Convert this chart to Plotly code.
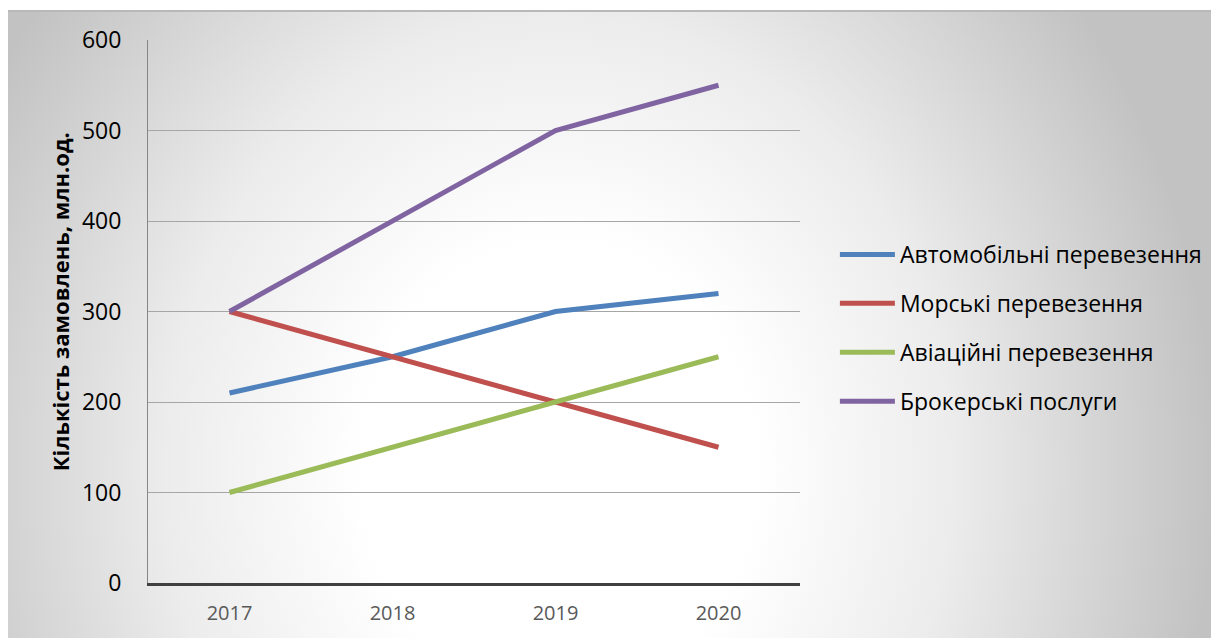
import base64
import plotly.graph_objects as go

years = ["2017", "2018", "2019", "2020"]
auto = [210, 250, 300, 320]
sea = [300, 250, 200, 150]
air = [100, 150, 200, 250]
broker = [300, 400, 500, 550]

names = ["Автомобільні перевезення", "Морські перевезення", "Авіаційні перевезення", "Брокерські послуги"]
colors = ["#4F81BD", "#C0504D", "#9BBB59", "#8064A2"]
series = [auto, sea, air, broker]

# page body has an 8px margin, so the figure is offset by 8px
W, H = 1211, 630
L, R, T, B = 140, 417, 32, 55
pw, ph = W - L - R, H - T - B

svg = '''<svg xmlns="http://www.w3.org/2000/svg" width="1212" height="628" viewBox="0 0 1212 628" preserveAspectRatio="none">
<defs><radialGradient id="g" gradientUnits="userSpaceOnUse" cx="0" cy="0" r="1" gradientTransform="translate(553 460) scale(660 760)">
<stop offset="0" stop-color="#ffffff"/><stop offset="0.3" stop-color="#ffffff"/><stop offset="0.6" stop-color="#ececec"/><stop offset="1" stop-color="#c2c2c2"/></radialGradient></defs>
<rect x="0" y="0" width="1212" height="628" fill="url(#g)"/>
<line x1="0" y1="1" x2="1212" y2="1" stroke="#b8b8b8" stroke-width="2"/>
</svg>'''
uri = "data:image/svg+xml;base64," + base64.b64encode(svg.encode()).decode()

fig = go.Figure()
for n, c, s in zip(names, colors, series):
    fig.add_trace(go.Scatter(x=years, y=s, name=n, mode="lines",
                             line=dict(color=c, width=5), legendgroup=n))

font = "Open Sans, Liberation Sans, sans-serif"
fig.update_layout(
    width=W, height=H,
    margin=dict(l=L, r=R, t=T, b=B),
    paper_bgcolor="rgba(0,0,0,0)", plot_bgcolor="rgba(0,0,0,0)",
    font=dict(family=font),
    images=[dict(source=uri, xref="paper", yref="paper",
                 x=(-1 - L) / pw, y=(H - 2 - B) / ph,
                 sizex=1212 / pw, sizey=628 / ph,
                 sizing="stretch", xanchor="left", yanchor="top", layer="below")],
    xaxis=dict(type="category", range=[-0.5, 3.5], showgrid=False,
               showline=True, linecolor="#404040", linewidth=3,
               ticks="outside", ticklen=10, tickcolor="rgba(0,0,0,0)",
               tickfont=dict(size=20, color="#595959", family=font)),
    yaxis=dict(range=[0, 600], dtick=100, showgrid=True, gridcolor="#a6a6a6", gridwidth=1,
               showline=True, linecolor="#868686", linewidth=1, zeroline=False,
               ticks="outside", ticklen=21, tickcolor="rgba(0,0,0,0)",
               tickfont=dict(size=23, color="black", family=font)),
    legend=dict(x=(829 - L) / pw, y=(575 - 320) / ph, xanchor="left", yanchor="middle",
                font=dict(size=23, color="black", family=font),
                bgcolor="rgba(0,0,0,0)", tracegroupgap=16, itemwidth=55),
    annotations=[dict(text="<b>Кількість замовлень, млн.од.</b>", xref="paper", yref="paper",
                      x=(52 - L) / pw, y=(575 - 294) / ph, xanchor="center", yanchor="middle",
                      textangle=-90, showarrow=False,
                      font=dict(size=22, color="black", family=font))],
)
fig.write_html("out.html")
